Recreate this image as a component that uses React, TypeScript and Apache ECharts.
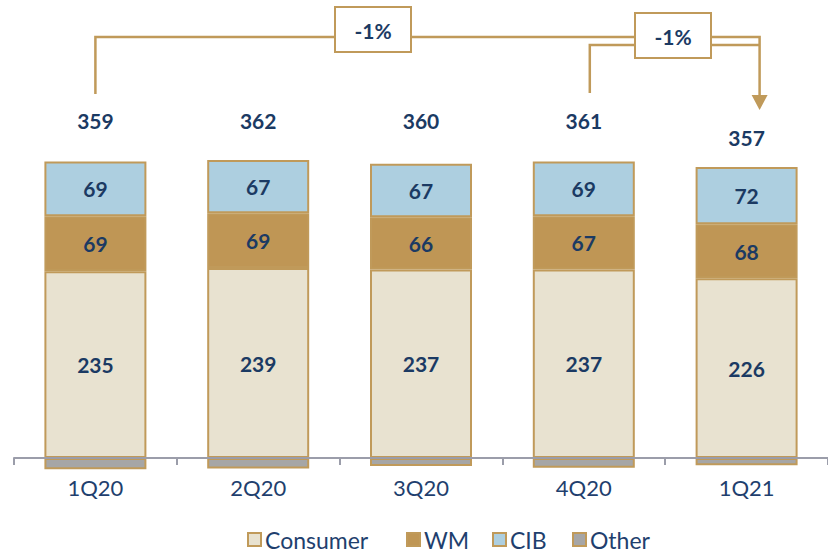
import React, { useEffect, useRef } from "react";
import * as echarts from "echarts";

const categories = ["1Q20", "2Q20", "3Q20", "4Q20", "1Q21"];
const consumer = [235, 239, 237, 237, 226];
const wm = [69, 69, 66, 67, 68];
const cib = [69, 67, 67, 69, 72];
const other = [-14, -13, -10, -12, -9];
const totals = [359, 362, 360, 361, 357];
const changes = ["-1%", "-1%"];
const legendNames = ["Consumer", "WM", "CIB", "Other"];

const GOLD = "#C09A5A";
const NAVY = "#1B3A63";
const FONT = "Lato";

export default function App() {
  const ref = useRef<HTMLDivElement>(null);
  useEffect(() => {
    if (!ref.current) return;
    const chart = echarts.init(ref.current, null, { renderer: "svg" });
    const lbl = {
      show: true,
      position: "inside",
      fontWeight: "bold",
      fontSize: 21,
      color: NAVY,
      fontFamily: FONT,
    };
    const mk = (name: string, data: number[], color: string, showLabel: boolean) => ({
      name,
      type: "bar",
      stack: "t",
      barWidth: 102,
      data,
      itemStyle: { color, borderColor: GOLD, borderWidth: 2 },
      label: showLabel ? lbl : { show: false },
    });
    const legendLeft = [247, 406, 492, 572];
    chart.setOption({
      animation: false,
      grid: { left: 14, right: 0, top: 140, bottom: 78 },
      xAxis: {
        type: "category",
        data: categories,
        axisLine: { lineStyle: { color: "#9B9DAA", width: 2 } },
        axisTick: { show: true, length: 7, lineStyle: { color: "#9B9DAA", width: 2 } },
        axisLabel: { fontSize: 22, color: "#1F3F6E", fontFamily: FONT, margin: 2 },
        z: 10,
      },
      yAxis: { type: "value", min: -20, max: 400, show: false, splitLine: { show: false } },
      legend: legendNames.map((n, i) => ({
        left: legendLeft[i],
        top: 528,
        padding: 0,
        itemWidth: 13,
        itemHeight: 13,
        icon: "rect",
        textStyle: { fontSize: 23, color: "#1F3F6E", fontFamily: FONT, padding: [0, 0, 0, -1] },
        data: [n],
      })),
      series: [
        mk("Consumer", consumer, "#E8E2D0", true),
        mk("WM", wm, "#BF9655", true),
        mk("CIB", cib, "#ADCFE0", true),
        mk("Other", other, "#A6A6A6", false),
      ],
    });

    const xs = categories.map((_, i) => chart.convertToPixel({ gridIndex: 0 }, [i, 0])[0]);
    const totalY = [120, 120, 120, 120, 137];
    const xArrow = xs[4] + 13;
    const graphics: any[] = [];
    totals.forEach((t, i) => {
      graphics.push({
        type: "text",
        x: xs[i],
        y: totalY[i],
        style: {
          text: String(t),
          fontSize: 21,
          fontWeight: "bold",
          fill: NAVY,
          fontFamily: FONT,
          align: "center",
          verticalAlign: "middle",
        },
        z: 20,
      });
    });
    graphics.push({
      type: "polyline",
      shape: { points: [[xs[0], 94], [xs[0], 37], [xArrow, 37], [xArrow, 97]] },
      style: { stroke: GOLD, lineWidth: 2.5, fill: null },
      z: 10,
    });
    graphics.push({
      type: "polyline",
      shape: { points: [[xs[3] + 6, 93], [xs[3] + 6, 45], [xArrow, 45]] },
      style: { stroke: GOLD, lineWidth: 2.5, fill: null },
      z: 10,
    });
    graphics.push({
      type: "polygon",
      shape: { points: [[xArrow - 8, 95], [xArrow + 8, 95], [xArrow, 110]] },
      style: { fill: GOLD },
      z: 10,
    });
    const boxes = [
      { x: 335, y: 7, w: 76, h: 45 },
      { x: 635, y: 13, w: 76, h: 45 },
    ];
    boxes.forEach((b, i) => {
      graphics.push({
        type: "rect",
        shape: { x: b.x, y: b.y, width: b.w, height: b.h },
        style: { fill: "#fff", stroke: GOLD, lineWidth: 2 },
        z: 15,
      });
      graphics.push({
        type: "text",
        x: b.x + b.w / 2,
        y: b.y + b.h / 2 + 1,
        style: {
          text: changes[i],
          fontSize: 21,
          fontWeight: "bold",
          fill: NAVY,
          fontFamily: FONT,
          align: "center",
          verticalAlign: "middle",
        },
        z: 16,
      });
    });
    chart.setOption({ graphic: graphics });
    return () => chart.dispose();
  }, []);
  return (
    <div
      ref={ref}
      style={{ position: "fixed", left: 0, top: 0, width: 828, height: 552, background: "#fff" }}
    />
  );
}
